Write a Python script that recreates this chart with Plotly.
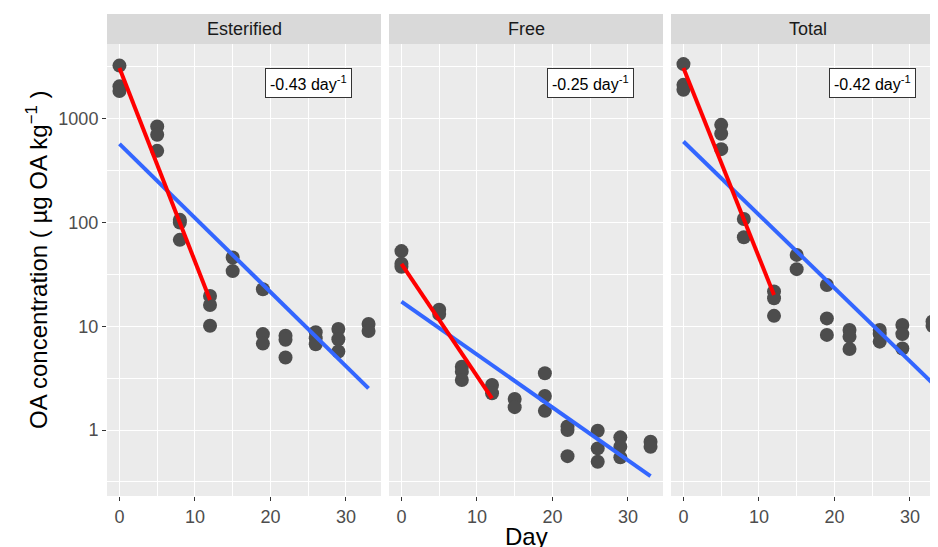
import plotly.graph_objects as go

# ---------------- data ----------------
panels = ["Esterified", "Free", "Total"]
rates = ["-0.43", "-0.25", "-0.42"]

est_days = [0, 0, 0, 5, 5, 5, 8, 8, 8, 12, 12, 12, 15, 15, 19, 19, 19, 22, 22, 22, 26, 26, 26, 29, 29, 29, 33, 33]
est_vals = [3250, 2050, 1850, 840, 700, 490, 106, 100, 68, 19.6, 16, 10.1, 46, 34, 22.7, 8.4, 6.8,
            8.1, 7.4, 5.0, 8.75, 7.66, 6.7, 9.4, 7.5, 5.7, 10.5, 9.0]

free_days = [0, 0, 0, 5, 5, 8, 8, 8, 12, 12, 15, 15, 19, 19, 19, 22, 22, 22, 26, 26, 26, 29, 29, 29, 33, 33]
free_vals = [53, 40, 37.5, 14.4, 13.1, 4.08, 3.65, 3.03, 2.72, 2.26, 1.99, 1.66, 3.52, 2.13, 1.53,
             1.08, 1.0, 0.56, 0.985, 0.665, 0.495, 0.85, 0.69, 0.545, 0.77, 0.69]

tot_days = [0, 0, 0, 5, 5, 5, 8, 8, 12, 12, 12, 15, 15, 19, 19, 19, 22, 22, 22, 26, 26, 26, 29, 29, 29, 33, 33]
tot_vals = [3360, 2120, 1900, 873, 716, 509, 108, 72, 21.6, 18.6, 12.6, 48.7, 35.5, 25, 11.9, 8.25,
            9.2, 7.94, 6.04, 9.2, 8.4, 7.1, 10.3, 8.4, 6.1, 11.1, 10.1]

early_fit_days = [0, 12]
est_early_fit = [3075, 17.9]
free_early_fit = [39.9, 2.02]
tot_early_fit = [3075, 20.0]

full_fit_days = [0, 33]
est_full_fit = [573, 2.52]
free_full_fit = [17.3, 0.36]
tot_full_fit = [603, 2.82]

x_ticks = [0, 10, 20, 30]
x_minor = [5, 15, 25]
y_ticks = [1, 10, 100, 1000]
y_ticklabels = ["1", "10", "100", "1000"]
y_minor = [0.316, 3.16, 31.6, 316, 3162]

# ---------------- figure ----------------
# The page body has an 8px margin, so the figure is drawn 8px smaller and offset.
OFF = 8
W, H = 938 - OFF, 547 - OFF
ML, MR, MT, MB = 107 - OFF, 0, 44 - OFF, 51
plot_w = W - ML - MR
plot_h = H - MT - MB
panel_px = 274
gap_px = 8
domains = []
for i in range(3):
    x0 = i * (panel_px + gap_px)
    x1 = min(x0 + panel_px, plot_w)
    domains.append([x0 / plot_w, x1 / plot_w])

px_per_day = panel_px / 36.3
x_lo = -1.65
x_ranges = [[x_lo, 34.65], [x_lo, 34.65],
            [x_lo, x_lo + (domains[2][1] - domains[2][0]) * plot_w / px_per_day]]
y_range = [-0.636, 3.72]

PANEL_BG = "#EBEBEB"
STRIP_BG = "#D9D9D9"
POINT_C = "#4D4D4D"
FONT = "Liberation Sans, Arial, sans-serif"

fig = go.Figure()

series = [
    (est_days, est_vals, est_early_fit, est_full_fit),
    (free_days, free_vals, free_early_fit, free_full_fit),
    (tot_days, tot_vals, tot_early_fit, tot_full_fit),
]

for i, (d, v, early, full) in enumerate(series):
    xa = "x" if i == 0 else f"x{i+1}"
    ya = "y" if i == 0 else f"y{i+1}"
    fig.add_trace(go.Scatter(x=d, y=v, mode="markers", xaxis=xa, yaxis=ya,
                             marker=dict(size=14, color=POINT_C), showlegend=False,
                             hoverinfo="skip"))
    fig.add_trace(go.Scatter(x=full_fit_days, y=full, mode="lines", xaxis=xa, yaxis=ya,
                             line=dict(color="#3366FF", width=4), showlegend=False,
                             hoverinfo="skip"))
    fig.add_trace(go.Scatter(x=early_fit_days, y=early, mode="lines", xaxis=xa, yaxis=ya,
                             line=dict(color="#FF0000", width=4), showlegend=False,
                             hoverinfo="skip"))

layout = dict(
    width=W, height=H,
    margin=dict(l=ML, r=MR, t=MT, b=MB),
    paper_bgcolor="white",
    plot_bgcolor=PANEL_BG,
    font=dict(family=FONT, color="#4D4D4D"),
    showlegend=False,
)

for i in range(3):
    xk = "xaxis" if i == 0 else f"xaxis{i+1}"
    yk = "yaxis" if i == 0 else f"yaxis{i+1}"
    ya = "y" if i == 0 else f"y{i+1}"
    xa = "x" if i == 0 else f"x{i+1}"
    layout[xk] = dict(
        domain=domains[i], anchor=ya, range=x_ranges[i],
        tickmode="array", tickvals=x_ticks, ticktext=[str(t) for t in x_ticks],
        showgrid=True, gridcolor="white", gridwidth=1.3,
        minor=dict(tickmode="array", tickvals=x_minor, showgrid=True,
                   gridcolor="white", gridwidth=0.6, ticks=""),
        ticks="outside", ticklen=4, tickwidth=1, tickcolor="#333333",
        tickfont=dict(size=18, color="#4D4D4D", family=FONT),
        zeroline=False, showline=False, fixedrange=True,
    )
    layout[yk] = dict(
        domain=[0, 1], anchor=xa, type="log", range=y_range,
        tickmode="array", tickvals=y_ticks, ticktext=y_ticklabels,
        showgrid=True, gridcolor="white", gridwidth=1.3,
        minor=dict(tickmode="array", tickvals=y_minor, showgrid=True,
                   gridcolor="white", gridwidth=0.6, ticks=""),
        ticks="outside" if i == 0 else "", ticklen=4, tickwidth=1, tickcolor="#333333",
        showticklabels=(i == 0),
        tickfont=dict(size=18, color="#4D4D4D", family=FONT),
        zeroline=False, showline=False, fixedrange=True,
    )
    if i > 0:
        layout[yk]["matches"] = "y"

fig.update_layout(**layout)

strip_h = 30 / plot_h
shapes = []
annotations = []
for i in range(3):
    shapes.append(dict(type="rect", xref="paper", yref="paper",
                       x0=domains[i][0], x1=domains[i][1], y0=1, y1=1 + strip_h,
                       fillcolor=STRIP_BG, line=dict(width=0), layer="below"))
    full_x1 = (i * (panel_px + gap_px) + panel_px) / plot_w
    annotations.append(dict(xref="paper", yref="paper",
                            x=(domains[i][0] + full_x1) / 2, y=1 + strip_h / 2,
                            text=panels[i], showarrow=False, xanchor="center", yanchor="middle",
                            font=dict(size=18, color="#1A1A1A", family=FONT)))
    xa = "x" if i == 0 else f"x{i+1}"
    ya = "y" if i == 0 else f"y{i+1}"
    annotations.append(dict(xref=xa, yref=ya, x=25, y=3.346,
                            text=f"{rates[i]} day<sup>-1</sup>", showarrow=False,
                            xanchor="center", yanchor="middle",
                            bgcolor="white", bordercolor="#333333", borderwidth=1, borderpad=4,
                            font=dict(size=16, color="black", family=FONT)))

annotations.append(dict(xref="paper", yref="paper",
                        x=(526 - 107) / plot_w, y=-(536 - 496) / plot_h,
                        text="Day", showarrow=False, xanchor="center", yanchor="middle",
                        font=dict(size=24, color="black", family=FONT)))
annotations.append(dict(xref="paper", yref="paper",
                        x=(37 - 107) / plot_w, y=1 - (260 - 44) / plot_h,
                        text="OA concentration ( µg OA kg<sup>−1</sup> )", showarrow=False,
                        textangle=-90, xanchor="center", yanchor="middle",
                        font=dict(size=24, color="black", family=FONT)))

fig.update_layout(shapes=shapes, annotations=annotations)

fig.write_html("out.html")
